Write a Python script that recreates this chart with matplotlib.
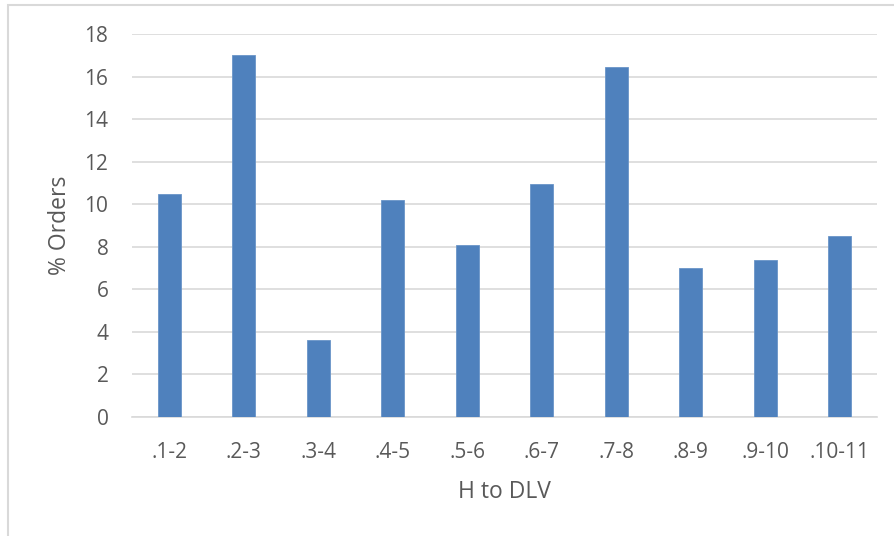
import numpy as np
import matplotlib.pyplot as plt
from matplotlib.patches import Rectangle

categories = [".1-2", ".2-3", ".3-4", ".4-5", ".5-6", ".6-7", ".7-8", ".8-9", ".9-10", ".10-11"]
pct_orders = [10.5, 17.0, 3.6, 10.2, 8.1, 10.95, 16.45, 7.0, 7.4, 8.5]

text_color = "#595959"
grid_color = "#d9d9d9"
bar_color = "#4f81bd"

plt.rcParams["font.family"] = ["Open Sans", "DejaVu Sans"]

fig = plt.figure(figsize=(8.94, 5.36), dpi=100)
ax = fig.add_axes([132 / 894, 1 - 417 / 536, 745 / 894, 383 / 536])

x = np.arange(len(categories))
ax.bar(x, pct_orders, width=0.31, color=bar_color, edgecolor="#6a95c8", linewidth=0.6, zorder=3)

ax.set_xlim(-0.5, len(categories) - 0.5)
ax.set_ylim(0, 18)
ax.set_yticks(np.arange(0, 19, 2))
ax.set_xticks(x)
ax.set_xticklabels(categories)
ax.yaxis.grid(True, color=grid_color, linewidth=1.2, zorder=0)
ax.tick_params(axis="both", length=0, labelsize=15, colors=text_color)
ax.tick_params(axis="x", pad=18)
ax.tick_params(axis="y", pad=17)
for s in ["top", "right", "left"]:
    ax.spines[s].set_visible(False)
ax.spines["bottom"].set_color(grid_color)
ax.spines["bottom"].set_linewidth(1.2)

ax.set_xlabel("H to DLV", fontsize=16.5, color=text_color, labelpad=12)
ax.set_ylabel("% Orders", fontsize=16.5, color=text_color, labelpad=9)

# chart border (light gray frame as in the spreadsheet export)
fig.patches.append(Rectangle((8 / 894, -0.05), 1.1, 0.05 + 1 - 5 / 536,
                             transform=fig.transFigure, fill=False,
                             edgecolor=grid_color, linewidth=1.5))

fig.savefig("out.png", dpi=100)
